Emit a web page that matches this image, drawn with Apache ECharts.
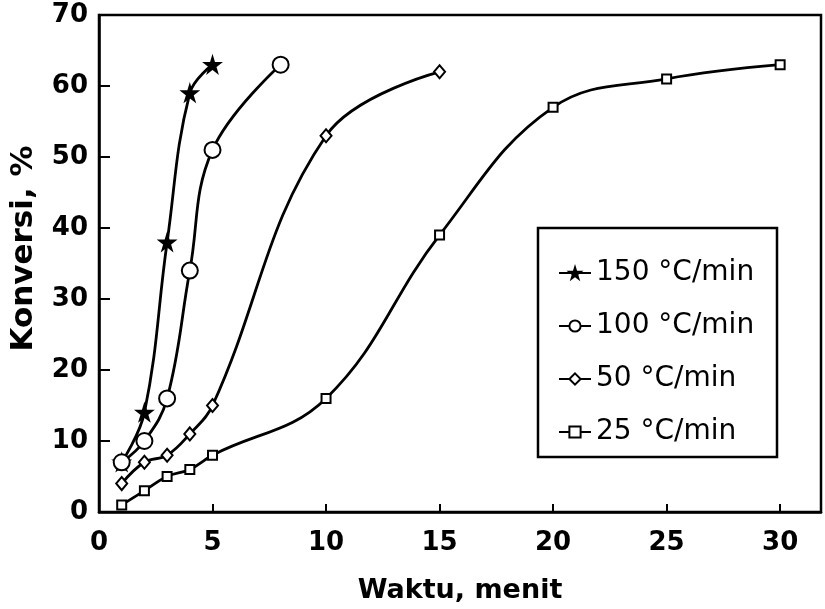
<!DOCTYPE html>
<html><head><meta charset="utf-8">
<script src="https://cdn.jsdelivr.net/npm/echarts@6/dist/echarts.min.js"></script>
<style>html,body{margin:0;padding:0;background:#fff}#c{width:825px;height:609px}</style>
</head><body><div id="c"></div>
<script>
const seriesNames = ['150 °C/min', '100 °C/min', '50 °C/min', '25 °C/min'];
const x150 = [1, 2, 3, 4, 5];
const y150 = [7, 14, 38, 59, 63];
const x100 = [1, 2, 3, 4, 5, 8];
const y100 = [7, 10, 16, 34, 51, 63];
const x50 = [1, 2, 3, 4, 5, 10, 15];
const y50 = [4, 7, 8, 11, 15, 53, 62];
const x25 = [1, 2, 3, 4, 5, 10, 15, 20, 25, 30];
const y25 = [1, 3, 5, 6, 8, 16, 39, 57, 61, 63];
const xTicks = [0, 5, 10, 15, 20, 25, 30];
const yTicks = [0, 10, 20, 30, 40, 50, 60, 70];

const pairs = (xs, ys) => xs.map((x, i) => [x, ys[i]]);
const FONT = '"DejaVu Sans", "Liberation Sans", Arial, sans-serif';
const STAR = 'path://M50,0 L61,35 L98,35 L68,57 L79,91 L50,70 L21,91 L32,57 L2,35 L39,35 Z';

const chart = echarts.init(document.getElementById('c'), null, {renderer: 'canvas'});
const mk = (name, data, symbol, size, fill) => ({
  name, type: 'line', data, smooth: 0.4,
  symbol, symbolSize: size,
  lineStyle: {color: '#000', width: 2.8},
  itemStyle: {color: fill, borderColor: '#000', borderWidth: 2},
  emphasis: {disabled: true}
});
chart.setOption({
  animation: false,
  backgroundColor: '#fff',
  grid: {left: 97, right: 4, top: 15, bottom: 97, show: true, borderColor: '#000', borderWidth: 2.5, backgroundColor: 'transparent'},
  xAxis: {
    type: 'value', min: 0, max: 31.8, interval: 5,
    name: 'Waktu, menit', nameLocation: 'middle', nameGap: 65,
    nameTextStyle: {fontFamily: FONT, fontSize: 27, fontWeight: 'bold', color: '#000'},
    axisLine: {lineStyle: {color: '#000', width: 2.5}},
    axisTick: {inside: true, length: 8, lineStyle: {color: '#000', width: 2}},
    axisLabel: {margin: 18, fontFamily: FONT, fontSize: 26, fontWeight: 'bold', color: '#000',
      formatter: v => xTicks.includes(v) ? String(v) : ''},
    splitLine: {show: false}
  },
  yAxis: {
    type: 'value', min: 0, max: 70, interval: 10,
    name: 'Konversi, %', nameLocation: 'middle', nameGap: 60,
    nameTextStyle: {fontFamily: FONT, fontSize: 31, fontWeight: 'bold', color: '#000', padding: [0, 0, 0, 30]},
    axisLine: {lineStyle: {color: '#000', width: 2.5}},
    axisTick: {inside: true, length: 11, lineStyle: {color: '#000', width: 2}},
    axisLabel: {margin: 11, fontFamily: FONT, fontSize: 26, fontWeight: 'bold', color: '#000',
      formatter: v => yTicks.includes(v) ? String(v) : ''},
    splitLine: {show: false}
  },
  legend: {
    orient: 'vertical', left: 553, top: 254, itemGap: 25, itemWidth: 32, itemHeight: 14,
    data: seriesNames,
    textStyle: {fontFamily: FONT, fontSize: 28, color: '#000'},
    inactiveColor: '#000'
  },
  graphic: [{type: 'rect', shape: {x: 538, y: 228, width: 239, height: 229},
    style: {fill: 'none', stroke: '#000', lineWidth: 2.5}, z: 100}],
  series: [
    mk(seriesNames[0], pairs(x150, y150), STAR, 15, '#000'),
    mk(seriesNames[1], pairs(x100, y100), 'circle', 16, '#fff'),
    mk(seriesNames[2], pairs(x50, y50), 'diamond', [11, 13], '#fff'),
    mk(seriesNames[3], pairs(x25, y25), 'rect', 9, '#fff')
  ]
});
</script></body></html>
